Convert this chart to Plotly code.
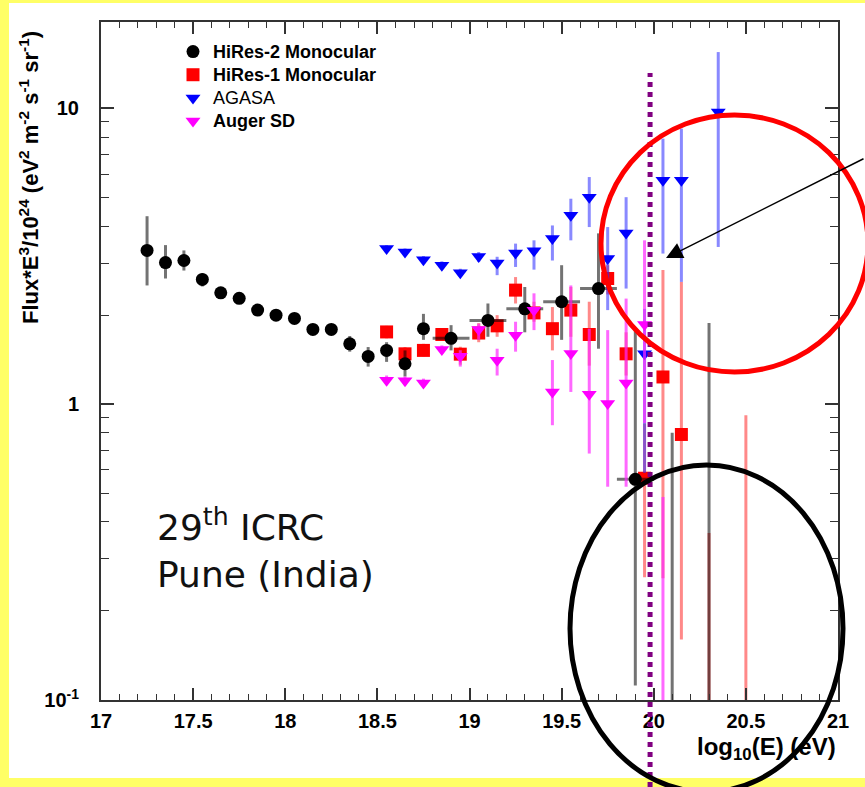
import plotly.graph_objects as go

# ---------------- data ----------------
LOW = 0.01  # bins whose central value lies below the plotted range (only the error bar shows)

hires2_x = [17.25, 17.35, 17.45, 17.55, 17.65, 17.75, 17.85, 17.95, 18.05, 18.15, 18.25, 18.35,
            18.45, 18.55, 18.65, 18.75, 18.9, 19.1, 19.3, 19.5, 19.7, 19.9, 20.1, 20.3]
hires2_y = [3.31, 3.01, 3.06, 2.64, 2.38, 2.28, 2.08, 2.00, 1.95, 1.79, 1.79, 1.60,
            1.45, 1.52, 1.37, 1.80, 1.67, 1.92, 2.10, 2.22, 2.46, 0.557, LOW, LOW]
hires2_hi = [4.32, 3.45, 3.31, 2.77, 2.45, 2.33, 2.12, 2.04, 1.99, 1.83, 1.83, 1.70,
             1.56, 1.62, 1.52, 2.02, 1.85, 2.19, 2.49, 2.95, 3.78, 1.80, 0.80, 1.88]
hires2_lo = [2.52, 2.66, 2.83, 2.50, 2.31, 2.22, 2.03, 1.96, 1.90, 1.75, 1.75, 1.505,
             1.34, 1.39, 1.24, 1.65, 1.52, 1.69, 1.75, 1.65, 1.54, 0.112, LOW, LOW]
hires2_xerr = [0] * 16 + [0.1] * 8

hires1_x = [18.55, 18.65, 18.75, 18.85, 18.95, 19.05, 19.15, 19.25, 19.35, 19.45, 19.55, 19.65,
            19.75, 19.85, 19.95, 20.05, 20.15, 20.3, 20.5]
hires1_y = [1.755, 1.48, 1.52, 1.72, 1.476, 1.74, 1.84, 2.43, 2.035, 1.80, 2.08, 1.72,
            2.66, 1.48, 0.562, 1.236, 0.79, LOW, LOW]
hires1_hi = [1.84, 1.56, 1.60, 1.80, 1.564, 1.88, 2.00, 2.69, 2.22, 2.13, 2.49, 2.22,
             2.95, 1.75, 0.86, 2.84, 2.59, 0.367, 0.918]
hires1_lo = [1.67, 1.41, 1.45, 1.65, 1.36, 1.62, 1.69, 2.19, 1.90, 1.52, 1.69, 1.35,
             2.35, 1.25, 0.26, 0.258, 0.16, LOW, LOW]

agasa_x = [18.55, 18.65, 18.75, 18.85, 18.95, 19.05, 19.15, 19.25, 19.35, 19.45, 19.55, 19.65,
           19.75, 19.85, 19.95, 20.05, 20.15, 20.35]
agasa_y = [3.36, 3.27, 3.08, 2.95, 2.78, 3.16, 3.00, 3.245, 3.30, 3.63, 4.35, 5.01,
           3.11, 3.79, 1.48, 5.71, 5.71, 9.72]
agasa_hi = [3.45, 3.36, 3.17, 3.04, 2.87, 3.27, 3.15, 3.49, 3.58, 4.02, 4.95, 5.86,
            3.97, 5.01, 2.10, 7.90, 8.54, 15.5]
agasa_lo = [3.27, 3.18, 2.99, 2.86, 2.69, 3.03, 2.73, 2.91, 2.85, 3.06, 3.58, 3.97,
            2.08, 2.46, 0.586, 3.23, 2.59, 3.40]

auger_x = [18.55, 18.65, 18.75, 18.85, 18.95, 19.05, 19.15, 19.25, 19.35, 19.45, 19.55, 19.65,
           19.75, 19.85, 19.95, 20.05]
auger_y = [1.205, 1.20, 1.18, 1.53, 1.453, 1.788, 1.409, 1.71, 2.077, 1.10, 1.483, 1.08,
           1.005, 1.18, 1.859, LOW]
auger_hi = [1.25, 1.24, 1.22, 1.58, 1.522, 1.87, 1.54, 1.90, 2.37, 1.41, 2.52, 1.80,
            1.78, 2.275, 3.58, 0.486]
auger_lo = [1.16, 1.16, 1.14, 1.48, 1.34, 1.65, 1.25, 1.505, 1.78, 0.849, 1.10, 0.681,
            0.526, 0.526, 0.863, LOW]

x_ticks = [17, 17.5, 18, 18.5, 19, 19.5, 20, 20.5, 21]
x_ticktext = ["17", "17.5", "18", "18.5", "19", "19.5", "20", "20.5", "21"]
y_ticks = [0.1, 1, 10]
y_ticktext = ["10<sup>-1</sup>", "1", "10"]
y_minor = [0.2, 0.3, 0.4, 0.5, 0.6, 0.7, 0.8, 0.9, 2, 3, 4, 5, 6, 7, 8, 9]
gzk_logE = 19.98

# ---------------- figure ----------------
W, H = 865, 787
ML, MR, MT, MB = 101, 27, 22, 87
PW, PH = W - ML - MR, H - MT - MB


def px(x):
    return (x - ML) / PW


def py(y):
    return (H - MB - y) / PH


def series(name, x, y, hi, lo, color, ecolor, symbol, size, rank, xerr=None):
    plus = [h - v for h, v in zip(hi, y)]
    minus = [v - l for v, l in zip(y, lo)]
    tr = go.Scatter(
        x=x, y=y, mode="markers", name=name, legendrank=rank, legendgroup=name,
        marker=dict(color=color, symbol=symbol, size=size, line=dict(width=0)),
        error_y=dict(type="data", symmetric=False, array=plus, arrayminus=minus,
                     color=ecolor, thickness=3, width=0),
        cliponaxis=True,
    )
    if xerr is not None:
        tr.error_x = dict(type="data", array=xerr, color=ecolor, thickness=3, width=0)
    return tr


def lg(text, bold=True):
    inner = f"<b>{text}</b>" if bold else text
    return f"<span style='font-size:18px'>{inner}</span>"


fig = go.Figure()
fig.add_trace(series(lg("HiRes-1 Monocular"), hires1_x, hires1_y, hires1_hi, hires1_lo,
                     "#ff0000", "rgba(255,40,40,0.55)", "square", 13, 2))
fig.add_trace(series(lg("HiRes-2 Monocular"), hires2_x, hires2_y, hires2_hi, hires2_lo,
                     "#000000", "rgba(0,0,0,0.55)", "circle", 13, 1, xerr=hires2_xerr))
fig.add_trace(series(lg("AGASA", bold=False), agasa_x, agasa_y, agasa_hi, agasa_lo,
                     "#0000ff", "rgba(40,40,255,0.55)", "triangle-down", 13, 3))
fig.add_trace(series(lg("Auger SD"), auger_x, auger_y, auger_hi, auger_lo,
                     "#ff00ff", "rgba(255,40,255,0.7)", "triangle-down", 13, 4))

axis_common = dict(showline=True, linewidth=2, linecolor="#333", mirror="allticks",
                   ticks="inside", tickcolor="#333", tickwidth=1.5,
                   showgrid=False, zeroline=False,
                   tickfont=dict(family="Liberation Sans", size=20, color="black", weight="bold"))

fig.update_xaxes(range=[17, 21], tickmode="array", tickvals=x_ticks, ticktext=x_ticktext,
                 ticklen=12, ticklabelstandoff=2,
                 minor=dict(dtick=0.1, tick0=17, ticks="inside", ticklen=6, tickwidth=1.2,
                            tickcolor="#333"),
                 **axis_common)
fig.update_yaxes(type="log", range=[-1, 1.292], tickmode="array", tickvals=y_ticks,
                 ticktext=y_ticktext, ticklen=13, ticklabelstandoff=16,
                 minor=dict(tickmode="array", tickvals=y_minor, ticks="inside", ticklen=8,
                            tickwidth=1.2, tickcolor="#333"),
                 **axis_common)

shapes = []
yellow = "#ffff66"
# yellow frame of the slide
shapes.append(dict(type="rect", xref="paper", yref="paper", x0=px(0), x1=px(9), y0=py(H), y1=py(0),
                   fillcolor=yellow, line=dict(width=0), layer="below"))
shapes.append(dict(type="rect", xref="paper", yref="paper", x0=px(0), x1=px(W), y0=py(H), y1=py(778),
                   fillcolor=yellow, line=dict(width=0), layer="below"))
shapes.append(dict(type="rect", xref="paper", yref="paper", x0=px(0), x1=px(W), y0=py(3), y1=py(0),
                   fillcolor=yellow, line=dict(width=0), layer="below"))
# dotted vertical line near 10^20 eV
shapes.append(dict(type="line", xref="x", yref="paper", x0=gzk_logE, x1=gzk_logE,
                   y0=py(H), y1=py(73), line=dict(color="#800080", width=5, dash="5px,5px")))
# red circle
shapes.append(dict(type="circle", xref="paper", yref="paper", x0=px(601), x1=px(868),
                   y0=py(372), y1=py(115), line=dict(color="#ff0000", width=5)))
# black ellipse
shapes.append(dict(type="circle", xref="paper", yref="paper", x0=px(570), x1=px(843),
                   y0=py(792), y1=py(465), line=dict(color="#000000", width=5)))
for s in shapes:
    if s["type"] != "rect":
        s["layer"] = "above"

annotations = [
    dict(text="<b>Flux*E<sup>3</sup>/10<sup>24</sup> (eV<sup>2</sup> m<sup>-2</sup> s<sup>-1</sup> sr<sup>-1</sup>)</b>",
         xref="paper", yref="paper", x=px(29), y=py(178), textangle=-90, showarrow=False,
         xanchor="center", yanchor="middle",
         font=dict(family="Liberation Sans", size=22, color="black")),
    dict(text="<b>log<sub>10</sub>(E) (eV)</b>", xref="paper", yref="paper",
         x=px(838), y=py(748), xanchor="right", yanchor="middle", showarrow=False,
         font=dict(family="Liberation Sans", size=24, color="black")),
    dict(text="29<sup>th</sup> ICRC", xref="paper", yref="paper", x=px(155), y=py(525),
         xanchor="left", yanchor="middle", showarrow=False,
         font=dict(family="DejaVu Sans", size=36, color="#111")),
    dict(text="Pune (India)", xref="paper", yref="paper", x=px(155), y=py(574),
         xanchor="left", yanchor="middle", showarrow=False,
         font=dict(family="DejaVu Sans", size=36, color="#111")),
    dict(text="", xref="paper", yref="paper", x=px(666), y=py(258), ax=230, ay=-100,
         showarrow=True, arrowhead=2, arrowsize=2.2, arrowwidth=1.5, arrowcolor="black",
         standoff=0),
]

fig.update_layout(
    width=W, height=H,
    margin=dict(l=ML, r=MR, t=MT, b=MB),
    paper_bgcolor="white", plot_bgcolor="white",
    shapes=shapes, annotations=annotations,
    showlegend=True,
    legend=dict(x=px(173), y=py(35), xanchor="left", yanchor="top",
                bgcolor="rgba(0,0,0,0)", tracegroupgap=0,
                font=dict(family="Liberation Sans", size=15.5, color="black")),
)

fig.write_html("out.html", config={"displayModeBar": False},
               post_script="document.body.style.margin='0';")
